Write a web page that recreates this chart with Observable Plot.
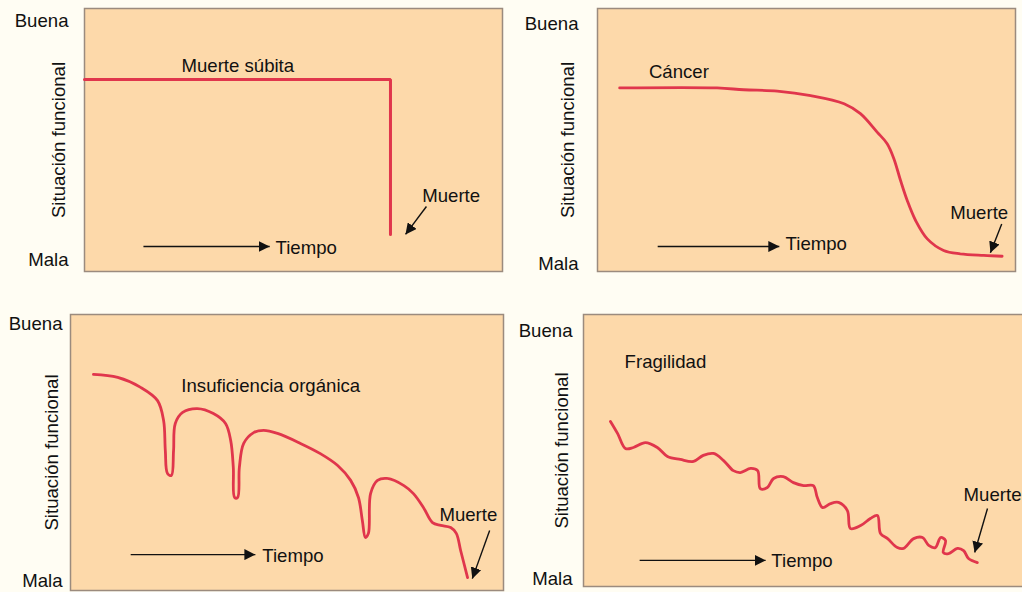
<!DOCTYPE html>
<html>
<head>
<meta charset="utf-8">
<script src="https://cdn.jsdelivr.net/npm/d3@7"></script>
<script src="https://cdn.jsdelivr.net/npm/@observablehq/plot@0.6"></script>
<style>
  html, body { margin: 0; padding: 0; background: #fffdf3; }
  #root { position: relative; width: 1022px; height: 592px; overflow: hidden; background: #fffdf3; }
  #root > svg, #root > figure { position: absolute; margin: 0; }
</style>
</head>
<body>
<div id="root"></div>
<script>
// ---------- Data (time 0–100 across each box, functional status 0–100 bottom→top) ----------
const titulos = ["Muerte súbita", "Cáncer", "Insuficiencia orgánica", "Fragilidad"];
const etiquetasY = ["Mala", "Buena"];
const ejeY = "Situación funcional";
const ejeX = "Tiempo";
const finTrayectoria = "Muerte";

const tiempoSubita = [0, 73.2, 73.2];
const situacionSubita = [73.0, 73.0, 14.1];

const tiempoCancer = [5.3, 28.6, 35.0, 43.0, 51.0, 59.0, 62.9, 66.9, 69.3, 70.9, 72.5, 74.1, 76.1, 78.9, 82.8, 86.8, 92.4, 96.8];
const situacionCancer = [69.8, 69.8, 69.1, 68.6, 66.9, 63.8, 60.0, 53.0, 48.6, 42.9, 34.6, 27.0, 19.4, 12.4, 8.0, 6.7, 6.1, 5.8];

const tiempoOrganica = [5.3, 10.9, 16.2, 20.1, 21.5, 21.9, 22.4, 23.3, 23.8, 24.2, 25.9, 29.3, 33.0, 35.8, 37.0, 37.6, 37.9, 38.6, 39.0, 40.0, 42.3, 44.6, 47.8, 53.1, 57.7, 61.7, 64.7, 66.5, 67.4, 68.1, 68.8, 69.3, 70.9, 73.2, 77.0, 79.2, 81.5, 83.6, 85.5, 87.8, 89.1, 90.1, 91.7];
const situacionOrganica = [78.3, 77.2, 73.6, 68.8, 61.6, 50.7, 42.4, 41.7, 50.7, 60.5, 64.5, 65.9, 64.1, 60.5, 54.3, 44.6, 33.7, 33.7, 44.6, 53.3, 57.2, 58.0, 56.9, 53.3, 49.6, 45.3, 39.9, 33.7, 25.4, 19.2, 20.7, 35.1, 39.9, 40.6, 38.0, 35.1, 30.1, 24.6, 23.6, 22.8, 20.7, 14.5, 4.7];

const tiempoFragilidad = [6.1, 7.7, 9.5, 11.3, 14.0, 16.7, 19.0, 21.9, 24.9, 27.1, 29.4, 31.7, 33.9, 35.5, 37.8, 39.4, 40.0, 41.6, 43.0, 45.2, 47.5, 49.8, 52.0, 52.9, 54.1, 55.9, 57.7, 59.7, 60.4, 62.7, 64.9, 66.5, 67.2, 68.8, 71.0, 72.4, 74.7, 76.7, 78.1, 79.6, 80.8, 81.9, 81.4, 82.6, 84.6, 86.0, 87.1, 89.1];
const situacionFragilidad = [60.7, 56.3, 50.7, 51.1, 52.9, 51.1, 47.8, 46.7, 46.0, 48.2, 48.9, 46.3, 42.6, 41.9, 43.4, 42.6, 36.0, 36.4, 39.7, 40.4, 38.2, 37.1, 37.1, 32.7, 29.0, 30.5, 30.9, 27.9, 21.3, 22.4, 25.0, 26.1, 19.5, 17.6, 14.3, 14.0, 17.6, 18.0, 15.1, 14.3, 18.0, 16.9, 12.5, 12.1, 14.0, 13.2, 10.3, 8.8];

// ---------- Layout (pixel geometry of each panel and annotation placement in data units) ----------
const paneles = [
  { tiempo: tiempoSubita, situacion: situacionSubita, curve: "linear", sw: 3,
    left: 0, top: 0, mL: 84, mT: 8, boxW: 418, boxH: 263, mR: 4, mB: 20,
    ticks: [4.2, 95.4], tickPad: 16, labelOff: 33,
    titulo: [23.2, 75.8], muerte: [80.8, 26.3], flechaM: [81.8, 24.7, 76.8, 14.1],
    flechaT: [14.1, 44.3, 9.5], textoT: [45.7, 6.5] },
  { tiempo: tiempoCancer, situacion: situacionCancer, curve: "catmull-rom", sw: 2.8,
    left: 511, top: 0, mL: 86, mT: 8, boxW: 418, boxH: 263, mR: 7, mB: 20,
    ticks: [3.0, 93.9], tickPad: 19, labelOff: 37,
    titulo: [12.3, 73.6], muerte: [84.4, 20.0], flechaM: [96.7, 18.1, 94.0, 7.1],
    flechaT: [14.4, 43.5, 9.5], textoT: [45.0, 8.3] },
  { tiempo: tiempoOrganica, situacion: situacionOrganica, curve: "catmull-rom", sw: 2.8,
    left: 0, top: 296, mL: 70, mT: 18, boxW: 433, boxH: 276, mR: 3, mB: 2,
    ticks: [3.4, 96.4], tickPad: 8, labelOff: 26,
    titulo: [25.6, 71.8], muerte: [85.2, 25.1], flechaM: [96.8, 21.7, 92.8, 4.3],
    flechaT: [13.9, 42.7, 13.0], textoT: [44.3, 10.3] },
  { tiempo: tiempoFragilidad, situacion: situacionFragilidad, curve: "catmull-rom", sw: 2.8,
    left: 511, top: 296, mL: 72, mT: 18, boxW: 442, boxH: 272, mR: 2, mB: 6,
    ticks: [2.9, 94.1], tickPad: 11, labelOff: 29,
    titulo: [9.3, 80.5], muerte: [86.0, 31.6], flechaM: [91.4, 28.7, 88.5, 12.5],
    flechaT: [12.7, 41.2, 9.6], textoT: [42.5, 7.0] }
];

const ROJO = "#e0364c";
const FONDO = "#fdd9aa";
const BORDE = "#9b8b7e";
const TINTA = "#111111";
const TAM = 18.6;

// filled triangular arrow head marker
function puntaLlena(color) {
  const ns = "http://www.w3.org/2000/svg";
  const m = document.createElementNS(ns, "marker");
  m.setAttribute("viewBox", "-11 -5.5 11 11");
  m.setAttribute("markerWidth", 11);
  m.setAttribute("markerHeight", 11);
  m.setAttribute("markerUnits", "userSpaceOnUse");
  m.setAttribute("refX", 0);
  m.setAttribute("refY", 0);
  m.setAttribute("orient", "auto");
  const p = document.createElementNS(ns, "path");
  p.setAttribute("d", "M0,0L-11,-5.5L-11,5.5Z");
  p.setAttribute("fill", color);
  p.setAttribute("stroke", "none");
  m.appendChild(p);
  return m;
}

const root = document.getElementById("root");

paneles.forEach((c, i) => {
  const serie = c.tiempo.map((t, k) => ({t, s: c.situacion[k]}));
  const flechas = [
    {x1: c.flechaM[0], y1: c.flechaM[1], x2: c.flechaM[2], y2: c.flechaM[3]},
    {x1: c.flechaT[0], y1: c.flechaT[2], x2: c.flechaT[1], y2: c.flechaT[2]}
  ];
  const textos = [
    {x: c.titulo[0], y: c.titulo[1], txt: titulos[i]},
    {x: c.muerte[0], y: c.muerte[1], txt: finTrayectoria},
    {x: c.textoT[0], y: c.textoT[1], txt: ejeX}
  ];
  const chart = Plot.plot({
    width: c.mL + c.boxW + c.mR,
    height: c.mT + c.boxH + c.mB,
    marginLeft: c.mL, marginTop: c.mT, marginRight: c.mR, marginBottom: c.mB,
    style: {fontFamily: "'Liberation Sans', Arial, sans-serif", fontSize: TAM + "px", background: "transparent", overflow: "visible", color: TINTA},
    x: {domain: [0, 100], axis: null},
    y: {domain: [0, 100]},
    marks: [
      Plot.frame({fill: FONDO, stroke: BORDE, strokeWidth: 1.5}),
      Plot.line(serie, {x: "t", y: "s", stroke: ROJO, strokeWidth: c.sw, curve: c.curve, strokeLinejoin: "miter"}),
      Plot.link(flechas, {x1: "x1", y1: "y1", x2: "x2", y2: "y2", stroke: TINTA, strokeWidth: 1.4, markerEnd: puntaLlena}),
      Plot.text(textos, {x: "x", y: "y", text: "txt", textAnchor: "start", lineAnchor: "bottom", fill: TINTA, fontSize: TAM}),
      Plot.axisY({
        ticks: c.ticks,
        tickFormat: (d) => d < 50 ? etiquetasY[0] : etiquetasY[1],
        tickSize: 0, tickPadding: c.tickPad,
        label: ejeY, labelAnchor: "center", labelOffset: c.labelOff, labelArrow: "none",
        fontSize: TAM, fill: TINTA
      })
    ]
  });
  chart.style.left = c.left + "px";
  chart.style.top = c.top + "px";
  root.appendChild(chart);
});
</script>
</body>
</html>
